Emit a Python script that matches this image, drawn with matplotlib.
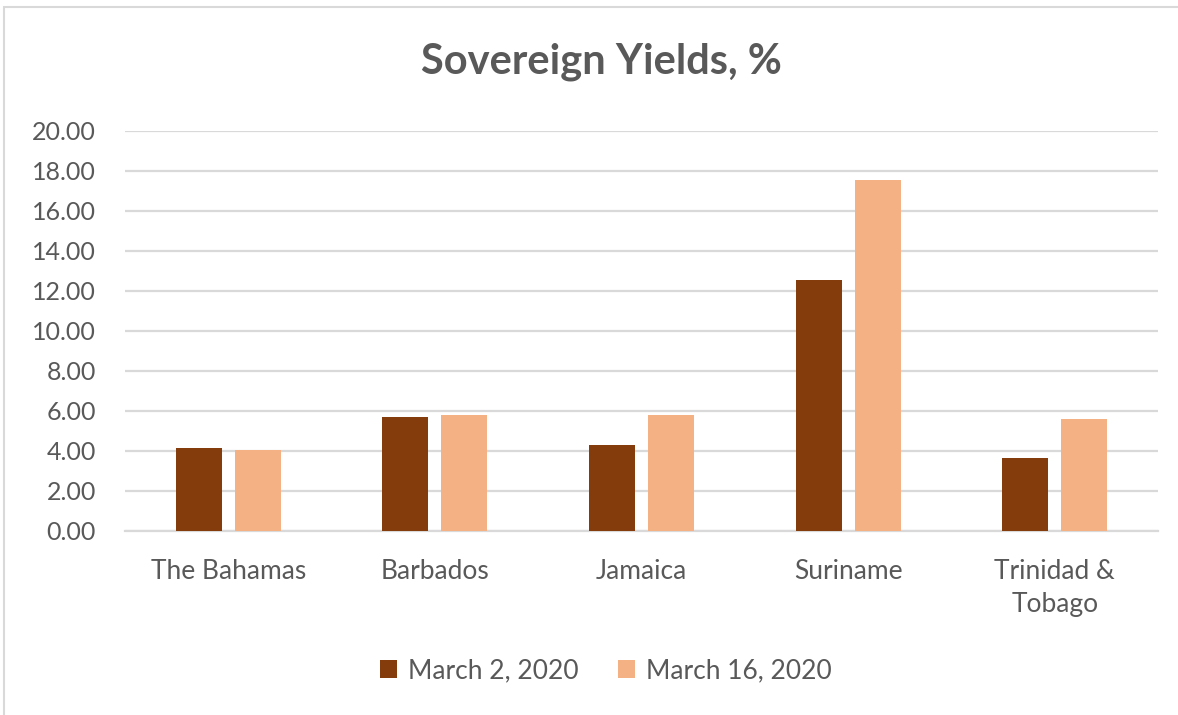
import numpy as np
import matplotlib.pyplot as plt
from matplotlib.patches import Rectangle

# Sovereign yields (%) on two dates
countries = ['The Bahamas', 'Barbados', 'Jamaica', 'Suriname', 'Trinidad &\nTobago']
march_2 = [4.13, 5.72, 4.28, 12.55, 3.65]
march_16 = [4.05, 5.80, 5.80, 17.55, 5.62]
yticks = [0, 2, 4, 6, 8, 10, 12, 14, 16, 18, 20]

plt.rcParams['font.family'] = ['Lato', 'DejaVu Sans']
gray = '#595959'

W, H = 1178, 715
fig = plt.figure(figsize=(W / 100, H / 100), dpi=100)
ax = fig.add_axes([125 / W, (H - 531) / H, (1158 - 125) / W, 400 / H])

x = np.arange(len(countries))
width = 0.223
off = 0.143
ax.bar(x - off, march_2, width, color='#843C0C', label='March 2, 2020', zorder=3)
ax.bar(x + off, march_16, width, color='#F4B183', label='March 16, 2020', zorder=3)

ax.set_xlim(-0.5, len(countries) - 0.5)
ax.set_ylim(0, 20)
ax.set_yticks(yticks)
ax.set_yticklabels([f'{v:.2f}' for v in yticks])
ax.set_xticks(x)
ax.set_xticklabels(countries, linespacing=1.4)
ax.yaxis.grid(True, color='#d9d9d9', linewidth=1.6, zorder=0)
for s in ax.spines.values():
    s.set_visible(False)
ax.spines['bottom'].set_visible(True)
ax.spines['bottom'].set_color('#d9d9d9')
ax.spines['bottom'].set_linewidth(1.6)
ax.tick_params(axis='both', length=0, colors=gray)
ax.tick_params(axis='y', labelsize=18, pad=21)
ax.tick_params(axis='x', labelsize=19, pad=20)

fig.text(601 / W, 1 - 62 / H, 'Sovereign Yields, %', ha='center', va='center',
         fontsize=30, fontweight='bold', color=gray)

leg = fig.legend(loc='center', bbox_to_anchor=(606 / W, 1 - 671 / H), ncol=2,
                 frameon=False, fontsize=19, handlelength=0.65, handleheight=0.65,
                 handletextpad=0.4, columnspacing=1.5)
for t in leg.get_texts():
    t.set_color(gray)

# light chart-area border
fig.patches.append(Rectangle((4 / W, -0.1), 1.2, 1.1 - 7 / H, transform=fig.transFigure,
                             fill=False, edgecolor='#d9d9d9', linewidth=1.5))

fig.savefig('out.png', dpi=100, facecolor='white')
